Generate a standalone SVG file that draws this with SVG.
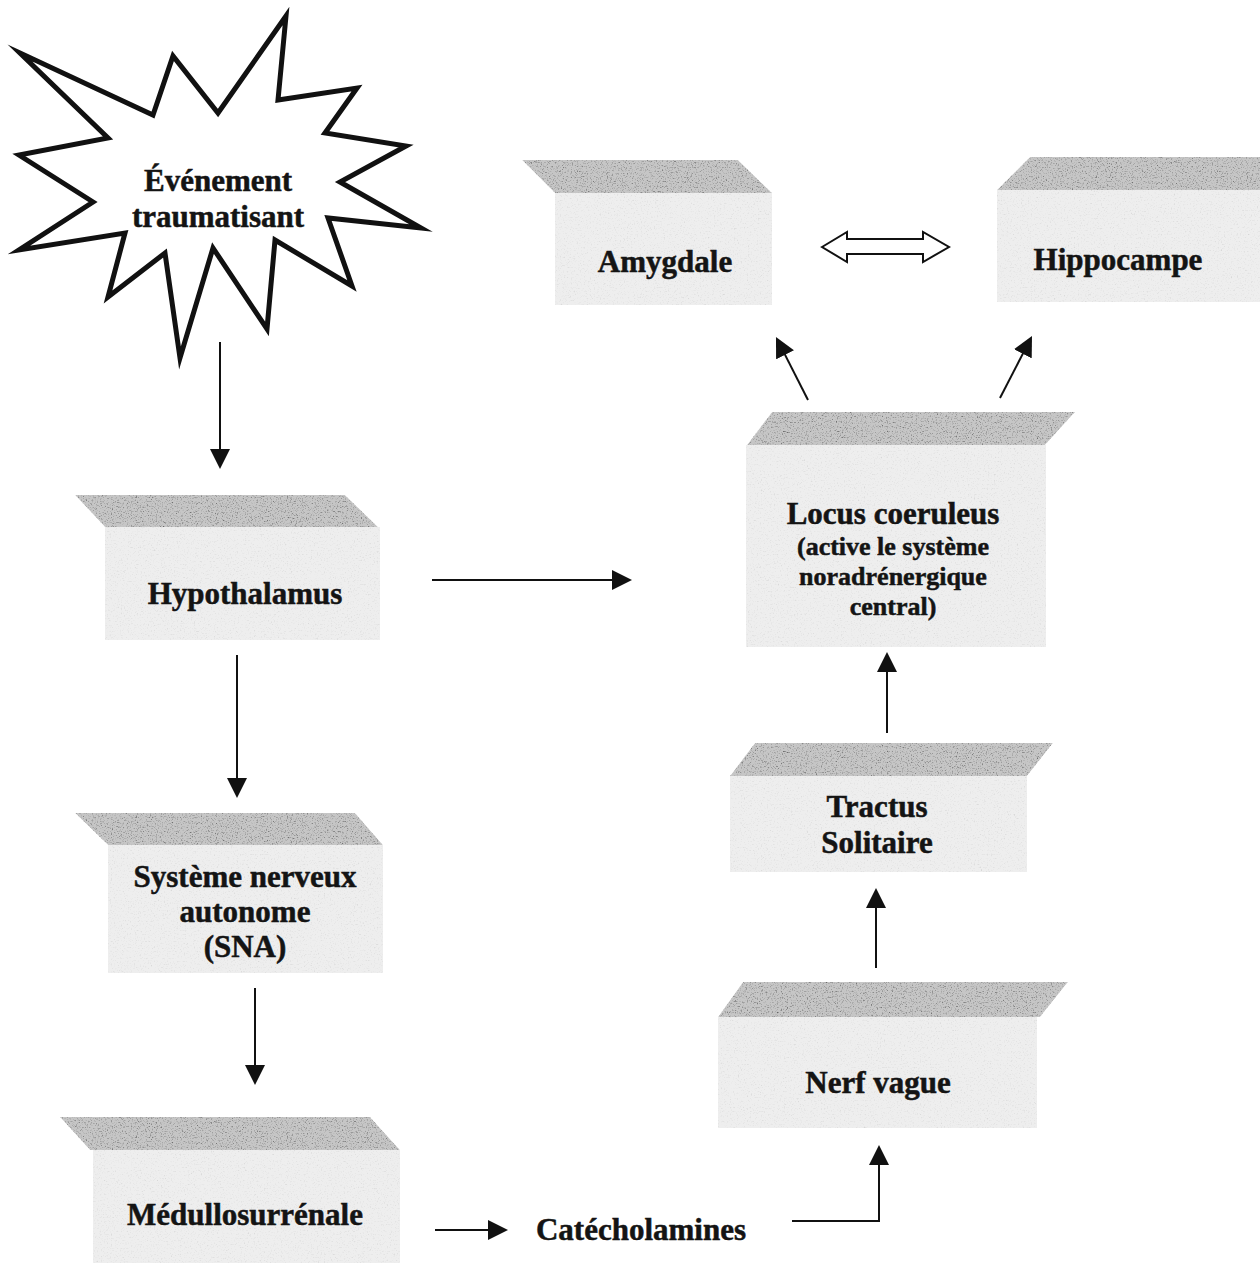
<svg xmlns="http://www.w3.org/2000/svg" width="1260" height="1263" viewBox="0 0 1260 1263">
<style>
  .top { fill: #c6c6c6; filter: url(#grainTop); }
  .front { fill: #eeeeee; filter: url(#grainFront); }
  .lbl { font-family: "Liberation Serif", "Times New Roman", serif; font-weight: bold; font-size: 31px; fill: #141414; stroke: #141414; stroke-width: 0.5; text-anchor: middle; }
  .sub { font-size: 26px; }
  .conn { stroke: #111; stroke-width: 2; fill: none; }
  .burst { fill: #fff; stroke: #111; stroke-width: 5; stroke-linejoin: miter; stroke-miterlimit: 20; }
</style>
<defs>
  <filter id="grainTop" color-interpolation-filters="sRGB">
    <feTurbulence type="fractalNoise" baseFrequency="0.8" numOctaves="2" seed="4" result="noise"/>
    <feColorMatrix in="noise" type="matrix" values="0.6 0.6 0.6 0 0.12  0.6 0.6 0.6 0 0.12  0.6 0.6 0.6 0 0.12  0 0 0 0 1" result="g"/>
    <feBlend in="SourceGraphic" in2="g" mode="multiply" result="b"/>
    <feComposite in="b" in2="SourceGraphic" operator="in"/>
  </filter>
  <filter id="grainFront" color-interpolation-filters="sRGB">
    <feTurbulence type="fractalNoise" baseFrequency="0.7" numOctaves="2" seed="9" result="noise"/>
    <feColorMatrix in="noise" type="matrix" values="0.12 0.12 0.12 0 0.83  0.12 0.12 0.12 0 0.83  0.12 0.12 0.12 0 0.83  0 0 0 0 1" result="g"/>
    <feBlend in="SourceGraphic" in2="g" mode="multiply" result="b"/>
    <feComposite in="b" in2="SourceGraphic" operator="in"/>
  </filter>
  <marker id="ah" markerWidth="20" markerHeight="20" refX="10" refY="10" orient="auto" markerUnits="userSpaceOnUse">
    <path d="M0,0 L20,10 L0,20 Z" fill="#111"/>
  </marker>
</defs>
<rect width="1260" height="1263" fill="#fff"/>

<g id="evenement">
  <polygon class="burst" points="20,53 153,115 173,56 218,113 286,16 278,100 357,88 325,133 406,146 340,182 421,228 328,218 352,286 275,240 267,329 213,248 180,358 165,253 108,297 125,233 19,250 93,202 19,155 108,138"/>
  <text class="lbl" x="218" y="191">Événement</text>
  <text class="lbl" x="218" y="227">traumatisant</text>
</g>

<g id="amygdale">
  <polygon class="top" points="522,160 738,160 772,193 555,193"/>
  <rect class="front" x="555" y="193" width="217" height="112"/>
  <text class="lbl" x="665" y="272">Amygdale</text>
</g>

<g id="hippocampe">
  <polygon class="top" points="1030,157 1260,157 1260,190 997,190"/>
  <rect class="front" x="997" y="190" width="263" height="112"/>
  <text class="lbl" x="1118" y="270">Hippocampe</text>
</g>

<g id="locus">
  <polygon class="top" points="772,412 1075,412 1045,445 747,445"/>
  <rect class="front" x="746" y="445" width="300" height="202"/>
  <text class="lbl" x="893" y="524">Locus coeruleus</text>
  <text class="lbl sub" x="893" y="555">(active le système</text>
  <text class="lbl sub" x="893" y="585">noradrénergique</text>
  <text class="lbl sub" x="893" y="615">central)</text>
</g>

<g id="hypothalamus">
  <polygon class="top" points="75,495 345,495 378,527 105,527"/>
  <rect class="front" x="105" y="527" width="275" height="113"/>
  <text class="lbl" x="245" y="604">Hypothalamus</text>
</g>

<g id="sna">
  <polygon class="top" points="75,813 355,813 383,845 108,845"/>
  <rect class="front" x="108" y="845" width="275" height="128"/>
  <text class="lbl" x="245" y="887">Système nerveux</text>
  <text class="lbl" x="245" y="922">autonome</text>
  <text class="lbl" x="245" y="957">(SNA)</text>
</g>

<g id="medullo">
  <polygon class="top" points="60,1117 370,1117 400,1150 90,1150"/>
  <rect class="front" x="93" y="1150" width="307" height="113"/>
  <text class="lbl" x="245" y="1225">Médullosurrénale</text>
</g>

<g id="tractus">
  <polygon class="top" points="755,743 1053,743 1027,776 730,776"/>
  <rect class="front" x="730" y="776" width="297" height="96"/>
  <text class="lbl" x="877" y="817">Tractus</text>
  <text class="lbl" x="877" y="853">Solitaire</text>
</g>

<g id="nerf">
  <polygon class="top" points="743,982 1068,982 1040,1017 718,1017"/>
  <rect class="front" x="718" y="1017" width="319" height="111"/>
  <text class="lbl" x="878" y="1093">Nerf vague</text>
</g>

<g id="catecholamines">
  <text class="lbl" x="641" y="1240">Catécholamines</text>
</g>

<g id="connectors">
  <line class="conn" x1="220" y1="342" x2="220" y2="459" marker-end="url(#ah)"/>
  <line class="conn" x1="237" y1="655" x2="237" y2="788" marker-end="url(#ah)"/>
  <line class="conn" x1="255" y1="988" x2="255" y2="1075" marker-end="url(#ah)"/>
  <line class="conn" x1="432" y1="580" x2="622" y2="580" marker-end="url(#ah)"/>
  <line class="conn" x1="435" y1="1230" x2="498" y2="1230" marker-end="url(#ah)"/>
  <path class="conn" d="M792,1221 H879 V1155" marker-end="url(#ah)"/>
  <line class="conn" x1="876" y1="968" x2="876" y2="898" marker-end="url(#ah)"/>
  <line class="conn" x1="887" y1="733" x2="887" y2="662" marker-end="url(#ah)"/>
  <line class="conn" x1="808" y1="400" x2="780.5" y2="345.9" marker-end="url(#ah)"/>
  <line class="conn" x1="1000" y1="398" x2="1027.4" y2="344.9" marker-end="url(#ah)"/>
  <polygon class="conn" points="822,247 847,232 847,239 923,239 923,232 949,247 923,262 923,254 847,254 847,262" style="fill:#fff"/>
</g>
</svg>
